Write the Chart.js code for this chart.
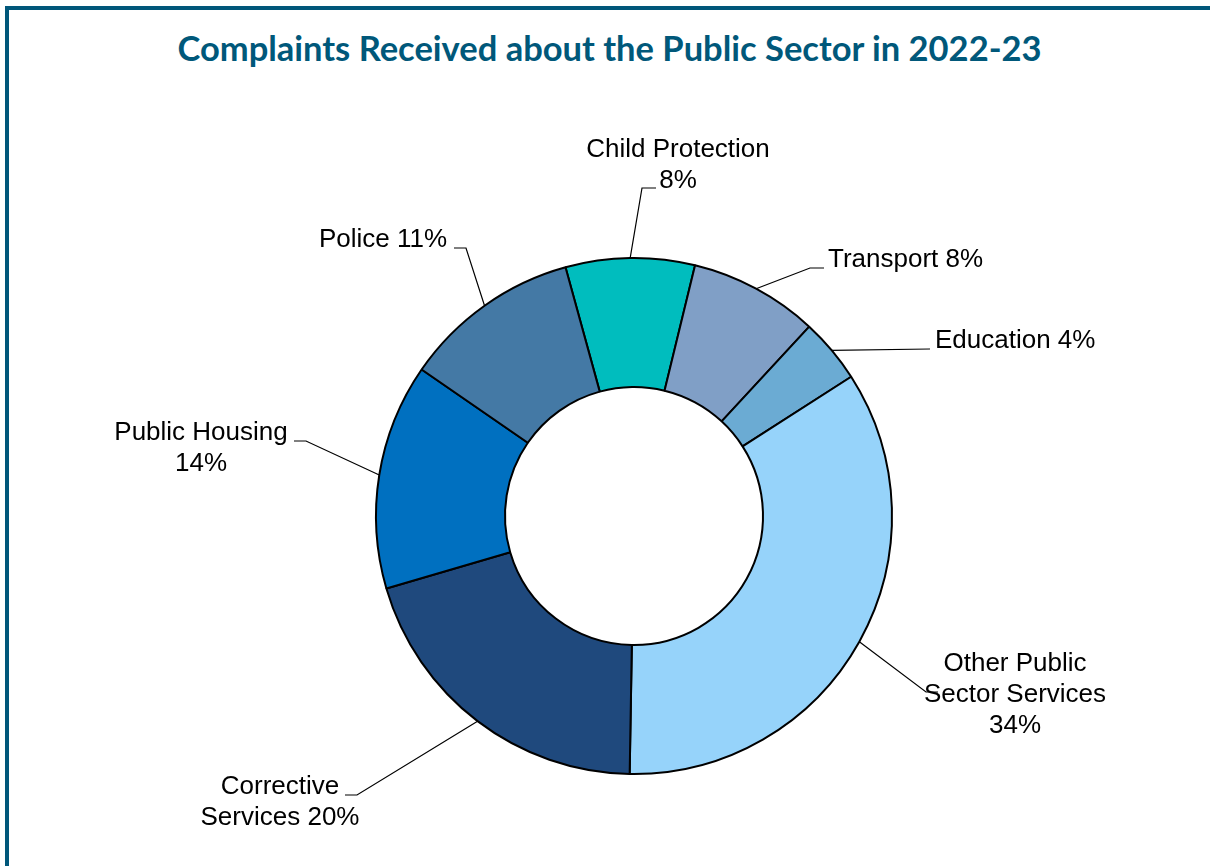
<!DOCTYPE html>
<html>
<head>
<meta charset="utf-8">
<title>Complaints Received about the Public Sector in 2022-23</title>
<script src="https://cdn.jsdelivr.net/npm/chart.js@4/dist/chart.umd.min.js"></script>
<style>
  html, body { margin: 0; padding: 0; background: #ffffff; }
  #wrap { position: relative; width: 1210px; height: 866px; overflow: hidden; }
  #frame { position: absolute; left: 5px; top: 6px; width: 1210px; height: 900px;
           border-left: 4px solid #00577A; border-top: 4px solid #00577A; box-sizing: border-box; }
  #title { position: absolute; left: 9px; right: 0; top: 28px; text-align: center;
           font-family: Lato, "Open Sans", sans-serif; font-weight: 700; font-size: 34.5px;
           line-height: 40px; color: #00587A; white-space: nowrap; }
  #chartBox { position: absolute; left: 0; top: 0; width: 1210px; height: 866px; }
</style>
</head>
<body>
<div id="wrap">
  <div id="frame"></div>
  <div id="title">Complaints Received about the Public Sector in 2022-23</div>
  <div id="chartBox"><canvas id="chart"></canvas></div>
</div>
<script>
// Share of complaints by area (per cent)
const categories = [
  'Child Protection',
  'Transport',
  'Education',
  'Other Public Sector Services',
  'Corrective Services',
  'Public Housing',
  'Police'
];
const shares = [8, 8, 4, 34, 20, 14, 11];

// Label text lines for each slice
const labelLines = [
  ['Child Protection', '8%'],
  ['Transport 8%'],
  ['Education 4%'],
  ['Other Public', 'Sector Services', '34%'],
  ['Corrective', 'Services 20%'],
  ['Public Housing', '14%'],
  ['Police 11%']
];

const sliceColors = ['#00BDBE', '#809FC6', '#6BABD3', '#96D3FA', '#1F497D', '#0070C0', '#4479A5'];

// Label placement: elbow point of the leader line, end of its short
// horizontal tail, and text anchor (x, first line y, alignment).
const labelLayout = [
  { elbow: [642, 188], tail: [656, 188], text: [678, 150], align: 'center' },
  { elbow: [810, 268], tail: [824, 268], text: [828, 260], align: 'left' },
  { elbow: [930, 349], tail: [930, 349], text: [935, 341], align: 'left' },
  { elbow: [926, 692], tail: [938, 692], text: [1015, 664], align: 'center' },
  { elbow: [357, 795], tail: [345, 795], text: [280, 787], align: 'center' },
  { elbow: [306, 441], tail: [294, 441], text: [201, 433], align: 'center' },
  { elbow: [466, 248], tail: [454, 248], text: [383, 240], align: 'center' }
];

const LABEL_FONT = '26px "Liberation Sans", Arial, sans-serif';
const LINE_HEIGHT = 31;

const leaderLabels = {
  id: 'leaderLabels',
  afterDatasetsDraw(chart) {
    const ctx = chart.ctx;
    const arcs = chart.getDatasetMeta(0).data;
    ctx.save();
    arcs.forEach((arc, i) => {
      const lay = labelLayout[i];
      const p = arc.getProps(['x', 'y', 'startAngle', 'endAngle', 'outerRadius'], true);
      const mid = (p.startAngle + p.endAngle) / 2;
      const ax = p.x + Math.cos(mid) * p.outerRadius;
      const ay = p.y + Math.sin(mid) * p.outerRadius;
      ctx.strokeStyle = '#000000';
      ctx.lineWidth = 1.2;
      ctx.beginPath();
      ctx.moveTo(ax, ay);
      ctx.lineTo(lay.elbow[0], lay.elbow[1]);
      ctx.lineTo(lay.tail[0], lay.tail[1]);
      ctx.stroke();

      ctx.fillStyle = '#000000';
      ctx.font = LABEL_FONT;
      ctx.textAlign = lay.align;
      ctx.textBaseline = 'middle';
      labelLines[i].forEach((line, k) => {
        ctx.fillText(line, lay.text[0], lay.text[1] + k * LINE_HEIGHT);
      });
    });
    ctx.restore();
  }
};

new Chart(document.getElementById('chart'), {
  type: 'doughnut',
  data: {
    labels: categories,
    datasets: [{
      data: shares,
      backgroundColor: sliceColors,
      borderColor: '#000000',
      borderWidth: 2,
      borderAlign: 'center',
      hoverOffset: 0
    }]
  },
  options: {
    responsive: true,
    maintainAspectRatio: false,
    animation: false,
    events: [],
    cutout: '50%',
    rotation: -15.4,
    layout: { padding: { left: 375, right: 317, top: 256, bottom: 90 } },
    plugins: {
      legend: { display: false },
      title: { display: false },
      tooltip: { enabled: false }
    }
  },
  plugins: [leaderLabels]
});
</script>
</body>
</html>
